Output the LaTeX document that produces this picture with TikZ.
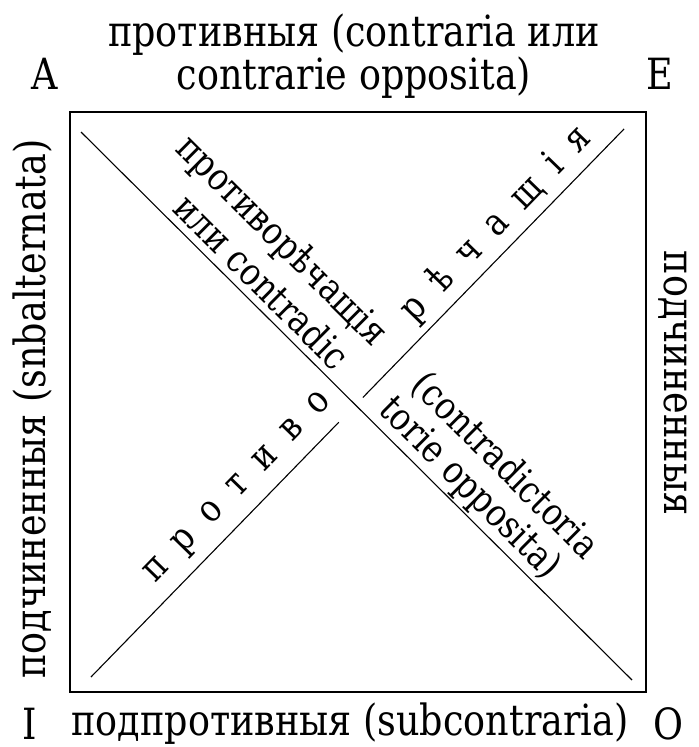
\documentclass[tikz,border=0pt]{standalone}
\usepackage{fontspec}
\setmainfont{DejaVu Serif}[FakeStretch=0.85]
\newfontfamily\spacedtype{DejaVu Serif}[FakeStretch=0.85, LetterSpace=50]
\usetikzlibrary{calc}

\begin{document}
\begin{tikzpicture}[
        x=1bp, y=-1bp,
        every node/.style={inner sep=0pt},
        sidetext/.style={font=\fontsize{43bp}{38bp}\selectfont},
        diagtext/.style={font=\fontsize{38bp}{38bp}\selectfont},
        frame/.style={line width=1.6bp},
        diag/.style={line width=1.1bp},
        corner/.style={font=\fontsize{43bp}{43bp}\selectfont},
        upline/.style={diagtext, rotate=45.79},
        downline/.style={diagtext, rotate=-44.84}
    ]
    \useasboundingbox (0,0) rectangle (699,747);

    % Square
    \coordinate (tl) at (70,112);
    \coordinate (br) at (646,692);
    \draw[frame] (tl) rectangle (br);

    % Diagonals
    \coordinate (d1s) at (81,132);
    \coordinate (d1e) at (632,680);
    \coordinate (d2s) at (91,677);
    \coordinate (d2e) at (624,129);
    \draw[diag] (d1s) -- (d1e);
    \draw[diag] (d2s) -- ($(d2s)!0.465!(d2e)$);
    \draw[diag] ($(d2s)!0.51!(d2e)$) -- (d2e);

    % Corner letters
    \node[corner] (a) at (45,74) {A};
    \node[corner] (e) at (660,74) {E};
    \node[corner] (i) at (30,724) {I};
    \node[corner] (o) at (668,724) {O};

    % Sides of the square
    \node[sidetext, align=center] (contr) at (354,56) {противныя (contraria или\\contrarie opposita)};
    \node[sidetext] (subcontr) at (350,724) {подпротивныя (subcontraria)};
    \node[sidetext, rotate=90] (subalt) at (33,409) {подчиненныя (snbalternata)};
    \node[sidetext, rotate=-90] (subaltR) at (673,383) {подчиненныя};

    % Along the diagonals
    \node[downline] (contrad) at ($(d1s)!0.282!(d1e)!63bp!90:(d1e)$) {противорѣчащія};
    \node[downline] (contradA) at ($(d1s)!0.301!(d1e)!22bp!90:(d1e)$) {или contradic};
    \node[downline] (contradB) at ($(d1s)!0.690!(d1e)!62bp!90:(d1e)$) {(contradictoria};
    \node[downline] (contradC) at ($(d1s)!0.678!(d1e)!21bp!90:(d1e)$) {torie opposita)};
    \node[upline] (protivo) at ($(d2s)!0.312!(d2e)!25bp!90:(d2e)$) {\spacedtype противо};
    \node[upline] (rechashchia) at ($(d2s)!0.794!(d2e)!25bp!90:(d2e)$) {\spacedtype рѣчащія};
\end{tikzpicture}
\end{document}
